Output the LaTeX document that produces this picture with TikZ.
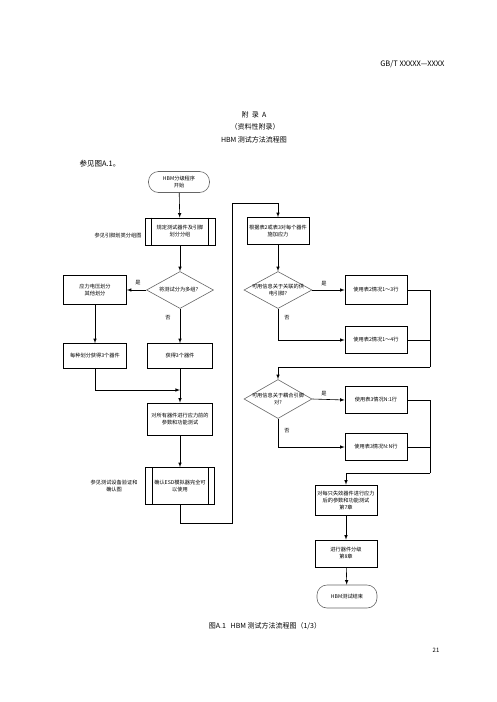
\documentclass[tikz,border=0pt]{standalone}
\usepackage{fontspec}
\setmainfont{Noto Sans CJK SC}
\usepackage{tikz}
\usetikzlibrary{shapes.geometric}
\tikzstyle{stepbox}=[rectangle, draw, line width=0.6pt, minimum width=62pt, minimum height=27pt, inner sep=1pt, align=center, font=\fontsize{5.2}{7}\selectfont]
\tikzstyle{terminal}=[rectangle, rounded corners=10pt, draw=gray!80!black, line width=0.6pt, minimum width=61pt, minimum height=21pt, inner sep=1pt, align=center, font=\fontsize{5.2}{7}\selectfont]
\tikzstyle{decision}=[diamond, draw=gray!80!black, line width=0.6pt, minimum width=68pt, minimum height=37pt, inner sep=0pt]
\tikzstyle{dtext}=[align=center, font=\fontsize{5.2}{7}\selectfont]
\tikzstyle{note}=[align=center, font=\fontsize{5.2}{7}\selectfont]
\tikzstyle{page}=[font=\fontsize{7}{8}\selectfont]
\tikzstyle{flow}=[-latex, line width=0.6pt]
\tikzstyle{wire}=[line width=0.6pt]

\begin{document}
\begin{tikzpicture}[x=1pt, y=-1pt]
		   \useasboundingbox (0,0) rectangle (496,702);
		   \begin{scope}
			   \node (head) at (448, 64) [page, anchor=east, font=\fontsize{7.5}{8}\selectfont] {GB/T XXXXX—XXXX};
			   \node (annex) at (254, 115) [page] {附\ \ 录\ \ A};
			   \node (kind) at (255, 127) [page] {（资料性附录）};
			   \node (title) at (254, 140) [page] {HBM 测试方法流程图};
			   \node (see) at (76, 164) [page, anchor=west, font=\fontsize{7.5}{8}\selectfont] {参见图A.1。};

			   \node (start) at (179, 182) [terminal] {HBM分级程序\\开始};
			   \node (define) at (180, 231.5) [stepbox, minimum width=70pt] {规定测试器件及引脚\\划分分组};
			   \node (defref) at (145, 236) [note, anchor=east] {参见引脚划类分组图};
			   \node (split) at (180, 290) [decision, minimum width=67pt] {};
			   \node (splittxt) at (split) [dtext] {将测试分为多组？};
			   \node (multi) at (95, 290) [stepbox, minimum width=63pt, minimum height=29pt] {应力电压划分\\其他划分};
			   \node (getmulti) at (95, 356) [stepbox, minimum width=63pt, minimum height=25pt] {每种划分获得3个器件};
			   \node (getthree) at (180, 356) [stepbox, minimum width=65pt, minimum height=25pt] {获得3个器件};
			   \node (pretest) at (180, 419) [stepbox, minimum width=65pt, minimum height=32pt] {对所有器件进行应力前的\\参数和功能测试};
			   \node (verify) at (180, 486) [stepbox, minimum width=69pt, minimum height=37pt] {确认ESD模拟器完全可\\以使用};
			   \node (verref) at (141, 486) [note, anchor=east] {参见测试设备验证和\\确认图};

			   \node (stress) at (278, 231) [stepbox] {根据表2或表3对每个器件\\施加应力};
			   \node (q1) at (278, 290) [decision] {};
			   \node (q1txt) at (q1) [dtext] {可用信息关于关联的供\\电引脚?};
			   \node (t21) at (376, 290) [stepbox, minimum height=29pt] {使用表2情况1～3行};
			   \node (t22) at (376, 340) [stepbox] {使用表2情况1～4行};
			   \node (q2) at (278, 399) [decision, minimum height=39pt] {};
			   \node (q2txt) at (q2) [dtext] {可用信息关于耦合引脚\\对?};
			   \node (t31) at (376, 400) [stepbox] {使用表3情况N:1行};
			   \node (t32) at (376, 447) [stepbox] {使用表3情况N:N行};
			   \node (failtest) at (346, 500) [stepbox, minimum height=30pt] {对每只失效器件进行应力\\后的参数和功能测试\\第7章};
			   \node (classify) at (346, 553.5) [stepbox] {进行器件分级\\第8章};
			   \node (finish) at (347, 596.5) [terminal, minimum width=60pt, minimum height=23pt] {HBM测试结束};

			   \node (yes1) at (138, 283) [note] {是};
			   \node (no1) at (168, 318) [note] {否};
			   \node (yes2) at (324, 284) [note] {是};
			   \node (no2) at (287, 318) [note] {否};
			   \node (yes3) at (324, 394) [note] {是};
			   \node (no3) at (287, 431) [note] {否};

			   \node (caption) at (265, 626) [page] {图A.1\ \ \ HBM 测试方法流程图（1/3）};
			   \node (pageno) at (436, 650) [page, font=\fontsize{6}{7}\selectfont] {21};

			   \coordinate (mergeA) at (180, 390);
			   \coordinate (backA) at (232, 523);
			   \coordinate (backB) at (232, 203);
			   \coordinate (rightA) at (430, 367);
			   \coordinate (rightB) at (430, 473);
		   \end{scope}
		   \begin{scope}
			   \draw [wire] ([xshift=7pt]define.north west) -- ([xshift=7pt]define.south west);
			   \draw [wire] ([xshift=-7pt]define.north east) -- ([xshift=-7pt]define.south east);
			   \draw [wire] ([xshift=7pt]verify.north west) -- ([xshift=7pt]verify.south west);
			   \draw [wire] ([xshift=-7pt]verify.north east) -- ([xshift=-7pt]verify.south east);

			   \draw [flow] (start) -- (define);
			   \draw [flow] (define) -- (split);
			   \draw [flow] (split.west) -- (multi.east);
			   \draw [flow] (split.south) -- (getthree.north);
			   \draw [flow] (multi) -- (getmulti);
			   \draw [flow] (getmulti.south) |- (mergeA);
			   \draw [flow] (getthree.south) -- (pretest.north);
			   \draw [flow] (pretest) -- (verify);
			   \draw [flow] (verify.south) |- (backA) -- (backB) -| (stress.north);

			   \draw [flow] (stress) -- (q1);
			   \draw [flow] (q1.east) -- (t21.west);
			   \draw [flow] (q1.south) |- (t22.west);
			   \draw [wire] (t21.east) -| (rightA);
			   \draw [wire] (t22.east) -- (t22.east -| rightA);
			   \draw [flow] (rightA) -| (q2.north);

			   \draw [flow] (q2.east) -- (t31.west);
			   \draw [flow] (q2.south) |- (t32.west);
			   \draw [wire] (t31.east) -| (rightB);
			   \draw [wire] (t32.east) -- (t32.east -| rightB);
			   \draw [flow] (rightB) -| (failtest.north);
			   \draw [flow] (failtest) -- (classify);
			   \draw [flow] (classify) -- (finish);
		   \end{scope}
	   \end{tikzpicture}
\end{document}
